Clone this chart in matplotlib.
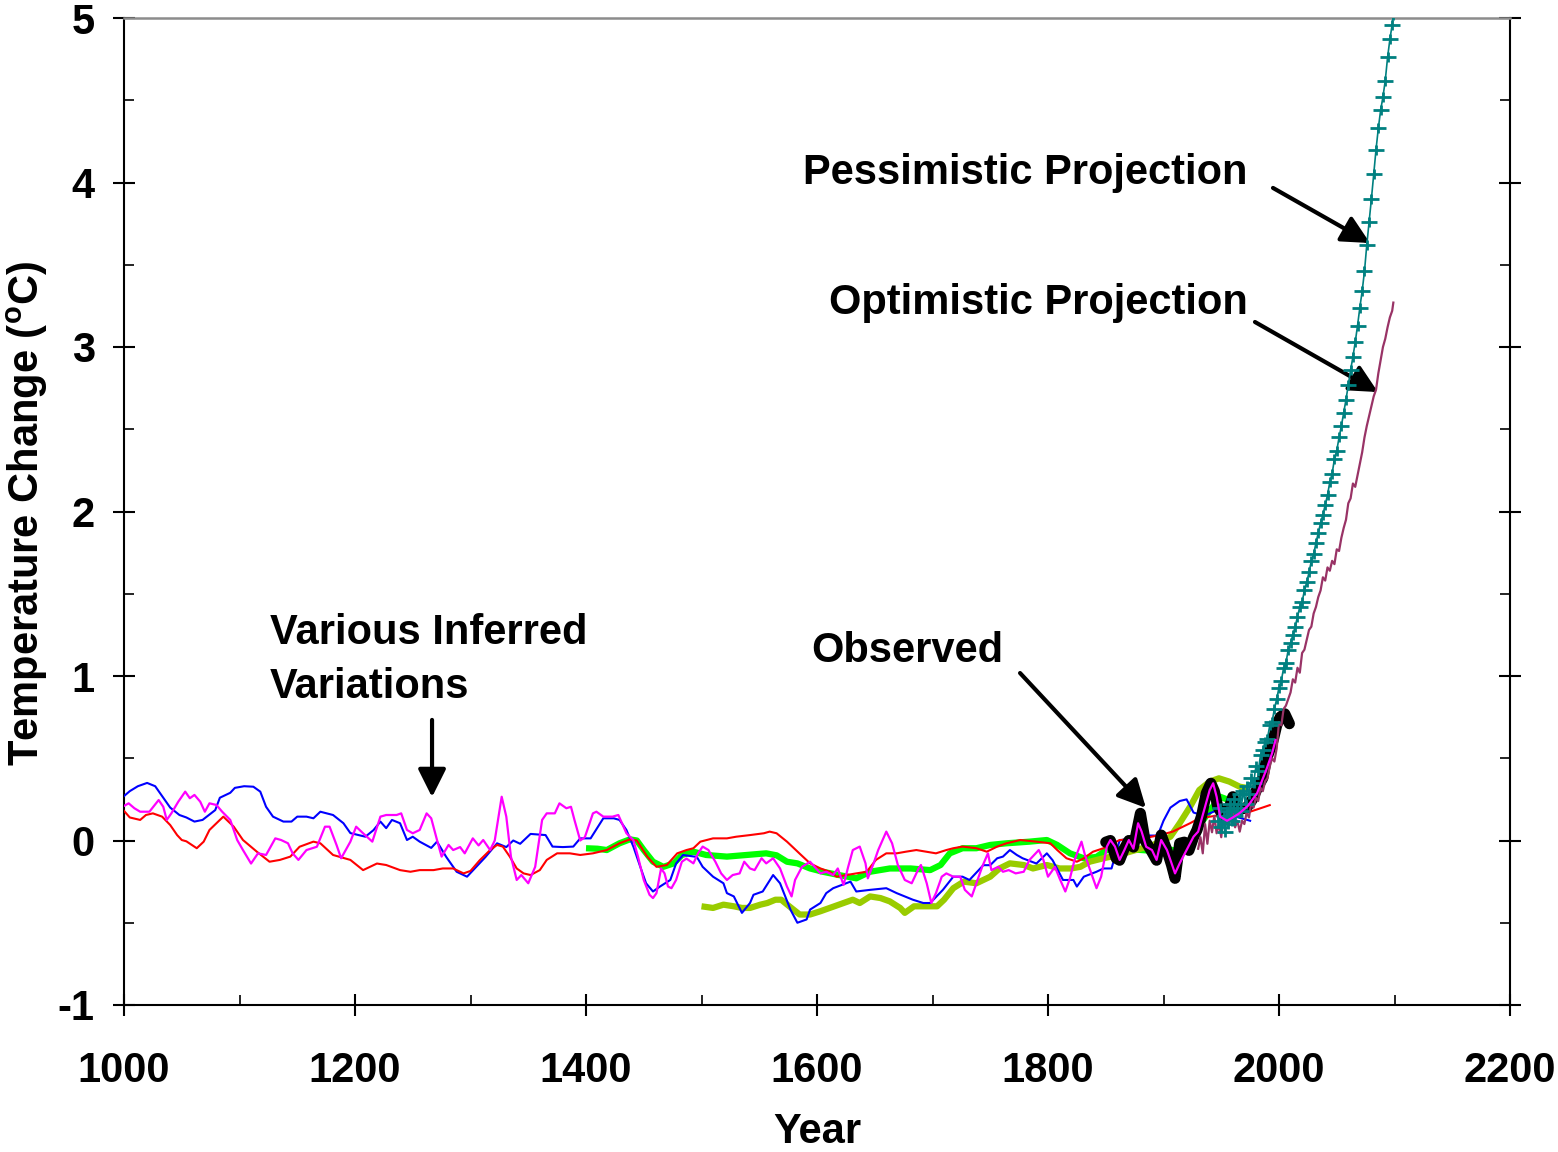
import matplotlib
matplotlib.use("Agg")
import matplotlib.pyplot as plt
from matplotlib.path import Path
from matplotlib.ticker import MultipleLocator

############################## DATA ##############################

# (year, temperature change in degrees C) for each reconstruction / record
bluePoints = [(1000, 0.27), (1005, 0.30), (1012, 0.33), (1020, 0.35), (1027, 0.33), (1031, 0.29),
  (1040, 0.20), (1048, 0.155), (1054, 0.14), (1061, 0.115), (1068, 0.125), (1079, 0.185),
  (1083, 0.26), (1092, 0.29), (1096, 0.32), (1104, 0.33), (1112, 0.327), (1118, 0.297),
  (1123, 0.205), (1129, 0.145), (1138, 0.115), (1145, 0.115), (1150, 0.145), (1158, 0.145),
  (1164, 0.135), (1170, 0.175), (1181, 0.155), (1190, 0.105), (1196, 0.045), (1209, 0.023),
  (1216, 0.063), (1222, 0.115), (1227, 0.075), (1232, 0.125), (1239, 0.105), (1245, 0.003),
  (1250, 0.023), (1256, -0.007), (1266, -0.045), (1271, -0.007), (1279, -0.10), (1288, -0.19),
  (1297, -0.22), (1305, -0.16), (1313, -0.10), (1323, -0.017), (1331, -0.04), (1337, 0.0),
  (1343, -0.02), (1352, 0.04), (1365, 0.033), (1371, -0.037), (1380, -0.04), (1389, -0.037),
  (1395, 0.013), (1404, 0.013), (1415, 0.135), (1424, 0.135), (1429, 0.125), (1435, 0.064),
  (1441, -0.037), (1447, -0.16), (1452, -0.26), (1458, -0.31), (1464, -0.28), (1473, -0.24),
  (1478, -0.14), (1484, -0.088), (1496, -0.10), (1501, -0.16), (1510, -0.22), (1519, -0.26),
  (1522, -0.32), (1528, -0.34), (1535, -0.44), (1542, -0.38), (1545, -0.33), (1553, -0.31),
  (1562, -0.21), (1568, -0.26), (1577, -0.42), (1583, -0.50), (1591, -0.48), (1594, -0.42),
  (1603, -0.38), (1608, -0.32), (1614, -0.29), (1629, -0.25), (1634, -0.31), (1646, -0.30),
  (1660, -0.29), (1669, -0.32), (1683, -0.36), (1692, -0.38), (1698, -0.38), (1709, -0.30),
  (1718, -0.22), (1726, -0.22), (1732, -0.24), (1744, -0.15), (1750, -0.15), (1756, -0.108),
  (1761, -0.098), (1767, -0.058), (1773, -0.088), (1778, -0.108), (1790, -0.14), (1799, -0.078),
  (1804, -0.12), (1813, -0.24), (1822, -0.24), (1825, -0.28), (1831, -0.22), (1842, -0.19),
  (1848, -0.17), (1855, -0.17), (1862, 0.0), (1880, 0.03), (1895, 0.03), (1900, 0.12),
  (1906, 0.20), (1914, 0.24), (1920, 0.25), (1926, 0.17), (1935, 0.15), (1945, 0.18),
  (1955, 0.16), (1965, 0.14), (1975, 0.12)]

redPoints = [(1000, 0.18), (1005, 0.14), (1014, 0.125), (1019, 0.155), (1025, 0.165), (1033, 0.145),
  (1040, 0.094), (1046, 0.033), (1050, 0.003), (1054, -0.005), (1063, -0.047), (1069, -0.007),
  (1074, 0.064), (1083, 0.125), (1086, 0.145), (1095, 0.084), (1103, 0.003), (1115, -0.068),
  (1126, -0.129), (1135, -0.118), (1144, -0.098), (1152, -0.038), (1164, -0.007), (1170, -0.017),
  (1181, -0.088), (1196, -0.118), (1207, -0.18), (1219, -0.14), (1227, -0.149), (1239, -0.18),
  (1248, -0.19), (1256, -0.18), (1268, -0.18), (1276, -0.17), (1285, -0.17), (1294, -0.20),
  (1300, -0.185), (1308, -0.12), (1317, -0.058), (1323, -0.027), (1328, -0.037), (1334, -0.098),
  (1340, -0.17), (1346, -0.20), (1352, -0.21), (1360, -0.18), (1366, -0.118), (1375, -0.078),
  (1386, -0.078), (1395, -0.088), (1406, -0.078), (1418, -0.058), (1429, -0.017), (1438, 0.007),
  (1444, 0.0), (1453, -0.098), (1461, -0.16), (1470, -0.149), (1479, -0.078), (1487, -0.058),
  (1493, -0.047), (1499, -0.007), (1510, 0.013), (1522, 0.013), (1530, 0.023), (1542, 0.033),
  (1554, 0.044), (1559, 0.054), (1565, 0.044), (1574, -0.007), (1579, -0.04), (1585, -0.08),
  (1594, -0.139), (1603, -0.17), (1611, -0.19), (1617, -0.22), (1634, -0.20), (1643, -0.19),
  (1651, -0.118), (1660, -0.078), (1669, -0.078), (1677, -0.068), (1686, -0.058), (1703, -0.078),
  (1712, -0.058), (1718, -0.047), (1726, -0.037), (1738, -0.047), (1747, -0.068), (1756, -0.037),
  (1764, -0.017), (1776, 0.003), (1790, -0.007), (1802, -0.017), (1808, -0.058), (1816, -0.108),
  (1825, -0.129), (1831, -0.108), (1839, -0.068), (1848, -0.047), (1862, 0.003), (1880, 0.01),
  (1897, 0.033), (1908, 0.054), (1923, 0.105), (1931, 0.135), (1945, 0.15), (1960, 0.16),
  (1975, 0.175), (1984, 0.196), (1992, 0.215)]

magentaPoints = [(1000, 0.21), (1004, 0.226), (1009, 0.196), (1014, 0.175), (1022, 0.175), (1030, 0.246),
  (1034, 0.205), (1037, 0.125), (1041, 0.165), (1047, 0.236), (1053, 0.297), (1057, 0.257),
  (1061, 0.277), (1066, 0.236), (1070, 0.175), (1074, 0.226), (1080, 0.216), (1085, 0.175),
  (1092, 0.125), (1098, 0.003), (1103, -0.058), (1110, -0.14), (1116, -0.078), (1123, -0.088),
  (1131, 0.013), (1136, 0.003), (1142, -0.017), (1146, -0.078), (1151, -0.118), (1158, -0.058),
  (1167, -0.038), (1174, 0.084), (1178, 0.084), (1184, -0.027), (1188, -0.108), (1196, -0.007),
  (1201, 0.084), (1207, 0.044), (1215, -0.007), (1222, 0.145), (1227, 0.155), (1236, 0.155),
  (1240, 0.165), (1245, 0.064), (1250, 0.044), (1256, 0.064), (1262, 0.165), (1266, 0.135),
  (1271, 0.003), (1275, -0.098), (1281, -0.027), (1285, -0.058), (1291, -0.04), (1295, -0.078),
  (1302, 0.013), (1307, -0.03), (1311, 0.003), (1317, -0.058), (1321, 0.0), (1327, 0.266),
  (1331, 0.145), (1335, -0.098), (1340, -0.24), (1344, -0.21), (1350, -0.26), (1356, -0.16),
  (1362, 0.125), (1366, 0.165), (1373, 0.165), (1377, 0.226), (1383, 0.196), (1387, 0.205),
  (1390, 0.125), (1395, 0.0), (1399, 0.02), (1406, 0.165), (1409, 0.175), (1415, 0.145),
  (1423, 0.145), (1428, 0.155), (1435, 0.044), (1441, 0.003), (1445, -0.098), (1450, -0.24),
  (1455, -0.33), (1458, -0.35), (1461, -0.32), (1465, -0.17), (1468, -0.20), (1471, -0.28),
  (1474, -0.29), (1478, -0.24), (1483, -0.129), (1487, -0.11), (1493, -0.139), (1497, -0.078),
  (1501, -0.037), (1506, -0.058), (1512, -0.129), (1517, -0.2), (1522, -0.24), (1527, -0.21),
  (1533, -0.2), (1537, -0.129), (1542, -0.17), (1546, -0.18), (1552, -0.108), (1556, -0.139),
  (1562, -0.108), (1568, -0.17), (1574, -0.28), (1578, -0.34), (1581, -0.24), (1587, -0.16),
  (1594, -0.129), (1603, -0.2), (1608, -0.19), (1614, -0.21), (1618, -0.17), (1623, -0.27),
  (1627, -0.16), (1631, -0.058), (1637, -0.037), (1642, -0.139), (1644, -0.23), (1649, -0.139),
  (1653, -0.058), (1660, 0.054), (1665, -0.017), (1670, -0.149), (1676, -0.24), (1682, -0.26),
  (1688, -0.17), (1690, -0.149), (1695, -0.26), (1699, -0.38), (1703, -0.32), (1708, -0.22),
  (1712, -0.2), (1718, -0.22), (1724, -0.22), (1728, -0.3), (1734, -0.34), (1738, -0.26),
  (1743, -0.16), (1748, -0.078), (1751, -0.18), (1757, -0.16), (1761, -0.19), (1766, -0.18),
  (1772, -0.2), (1779, -0.19), (1784, -0.118), (1792, -0.058), (1796, -0.118), (1800, -0.22),
  (1806, -0.16), (1810, -0.23), (1815, -0.31), (1819, -0.23), (1823, -0.118), (1829, -0.007),
  (1832, -0.088), (1836, -0.17), (1842, -0.29), (1846, -0.22), (1851, -0.037), (1854, 0.003),
  (1858, -0.037), (1862, -0.118), (1866, -0.06), (1870, 0.003), (1874, -0.05), (1878, 0.105),
  (1881, 0.055), (1885, -0.038), (1890, -0.058), (1894, -0.118), (1898, 0.003), (1903, -0.058),
  (1910, -0.2), (1914, -0.139), (1920, -0.058), (1926, 0.023), (1930, 0.054), (1936, 0.205),
  (1940, 0.307), (1943, 0.348), (1946, 0.266), (1949, 0.145), (1955, 0.12), (1960, 0.14),
  (1966, 0.167), (1973, 0.21), (1981, 0.287), (1989, 0.43), (1994, 0.53), (1997, 0.61)]

greenPoints = [(1400, -0.047), (1410, -0.05), (1418, -0.058), (1429, -0.017), (1438, 0.007), (1444, 0.0),
  (1450, -0.058), (1458, -0.129), (1467, -0.16), (1476, -0.139), (1483, -0.088), (1493, -0.068),
  (1504, -0.088), (1522, -0.098), (1539, -0.088), (1556, -0.078), (1565, -0.09), (1574, -0.129),
  (1583, -0.139), (1594, -0.17), (1605, -0.19), (1619, -0.21), (1634, -0.23), (1646, -0.19),
  (1663, -0.17), (1681, -0.17), (1698, -0.18), (1707, -0.149), (1715, -0.078), (1726, -0.047),
  (1738, -0.047), (1750, -0.027), (1764, -0.017), (1784, -0.007), (1799, 0.003), (1808, -0.027),
  (1819, -0.078), (1831, -0.108), (1842, -0.1), (1850, -0.06), (1865, -0.05), (1885, -0.06),
  (1900, -0.05), (1908, -0.058), (1914, -0.1), (1922, -0.02), (1930, 0.08), (1940, 0.18),
  (1949, 0.266), (1955, 0.25)]

olivePoints = [(1500, -0.40), (1510, -0.41), (1519, -0.39), (1528, -0.40), (1535, -0.41), (1542, -0.41),
  (1551, -0.39), (1557, -0.38), (1564, -0.36), (1569, -0.36), (1576, -0.40), (1585, -0.45),
  (1594, -0.45), (1603, -0.43), (1611, -0.41), (1623, -0.38), (1631, -0.36), (1637, -0.38),
  (1646, -0.34), (1655, -0.35), (1663, -0.37), (1672, -0.41), (1676, -0.44), (1684, -0.40),
  (1692, -0.40), (1704, -0.40), (1710, -0.36), (1718, -0.29), (1727, -0.25), (1738, -0.26),
  (1750, -0.22), (1758, -0.17), (1767, -0.139), (1779, -0.149), (1787, -0.17), (1799, -0.149),
  (1810, -0.17), (1820, -0.17), (1828, -0.16), (1836, -0.129), (1848, -0.108), (1860, -0.09),
  (1875, -0.06), (1890, -0.03), (1906, 0.023), (1914, 0.105), (1923, 0.205), (1931, 0.307),
  (1940, 0.358), (1948, 0.378), (1957, 0.358), (1966, 0.327), (1972, 0.32)]

observedPoints = [(1850, -0.01), (1854, 0.0), (1859, -0.108), (1862, -0.12), (1866, -0.05), (1870, 0.0),
  (1874, -0.04), (1880, 0.165), (1884, 0.0), (1890, -0.07), (1894, -0.12), (1898, 0.033),
  (1903, -0.06), (1907, -0.15), (1910, -0.23), (1914, -0.017), (1918, -0.01), (1922, -0.06),
  (1926, 0.02), (1929, 0.064), (1933, 0.15), (1937, 0.287), (1941, 0.348), (1944, 0.3),
  (1947, 0.205), (1952, 0.145), (1957, 0.2), (1960, 0.266), (1963, 0.2), (1967, 0.19),
  (1972, 0.2), (1977, 0.25), (1982, 0.33), (1986, 0.38), (1989, 0.49), (1995, 0.61),
  (1998, 0.7), (2001, 0.75), (2005, 0.77), (2009, 0.71)]

pessimisticPoints = [(1947, 0.12), (1949, 0.2), (1950, 0.08), (1952, 0.15), (1953, 0.05), (1955, 0.18),
  (1956, 0.1), (1958, 0.22), (1959, 0.12), (1961, 0.25), (1962, 0.15), (1964, 0.2), (1966, 0.28),
  (1967, 0.18), (1969, 0.3), (1971, 0.22), (1972, 0.33), (1974, 0.28), (1976, 0.38), (1978, 0.35),
  (1980, 0.45), (1982, 0.42), (1984, 0.52), (1986, 0.55), (1988, 0.6), (1990, 0.62), (1992, 0.7),
  (1994, 0.72), (1996, 0.8), (1998, 0.86), (2000, 0.93), (2002, 0.97), (2004, 1.05), (2006, 1.08),
  (2008, 1.16), (2010, 1.2), (2012, 1.25), (2014, 1.3), (2016, 1.36), (2018, 1.42), (2020, 1.45),
  (2022, 1.52), (2024, 1.57), (2026, 1.63), (2028, 1.7), (2030, 1.74), (2032, 1.81), (2034, 1.87),
  (2036, 1.93), (2038, 1.98), (2040, 2.04), (2042, 2.1), (2044, 2.18), (2046, 2.23), (2048, 2.32),
  (2050, 2.37), (2052, 2.45), (2054, 2.52), (2056, 2.6), (2058, 2.68), (2060, 2.77), (2062, 2.86),
  (2064, 2.94), (2066, 3.03), (2068, 3.13), (2070, 3.24), (2072, 3.34), (2074, 3.46), (2076, 3.62),
  (2078, 3.76), (2080, 3.9), (2082, 4.05), (2084, 4.2), (2086, 4.33), (2088, 4.44), (2090, 4.52),
  (2092, 4.62), (2094, 4.76), (2096, 4.87), (2098, 4.96), (2099, 5.02)]

optimisticPoints = [(1930, -0.05), (1932, 0.02), (1934, -0.078), (1936, 0.1), (1938, -0.02), (1940, 0.12),
  (1942, 0.05), (1944, 0.15), (1946, 0.044), (1948, 0.1), (1950, 0.02), (1952, 0.15), (1954, 0.1),
  (1956, 0.2), (1958, 0.12), (1960, 0.18), (1962, 0.08), (1964, 0.12), (1966, 0.054), (1968, 0.12),
  (1970, 0.1), (1972, 0.17), (1974, 0.14), (1976, 0.23), (1978, 0.2), (1980, 0.26), (1982, 0.24),
  (1984, 0.32), (1986, 0.3), (1988, 0.36), (1990, 0.38), (1992, 0.45), (1994, 0.5), (1996, 0.48),
  (1998, 0.56), (2000, 0.72), (2002, 0.7), (2004, 0.8), (2006, 0.82), (2008, 0.86), (2010, 0.9),
  (2012, 0.98), (2014, 0.96), (2016, 1.05), (2018, 1.02), (2020, 1.14), (2022, 1.16), (2024, 1.22),
  (2026, 1.28), (2028, 1.3), (2030, 1.38), (2032, 1.42), (2034, 1.48), (2036, 1.52), (2038, 1.6),
  (2040, 1.58), (2042, 1.66), (2044, 1.64), (2046, 1.7), (2048, 1.68), (2050, 1.77), (2052, 1.76),
  (2054, 1.84), (2056, 1.9), (2058, 1.95), (2060, 2.05), (2062, 2.08), (2064, 2.17), (2066, 2.15),
  (2068, 2.22), (2070, 2.29), (2072, 2.36), (2074, 2.45), (2076, 2.52), (2078, 2.58), (2080, 2.64),
  (2082, 2.7), (2084, 2.74), (2086, 2.84), (2088, 2.92), (2090, 3.0), (2092, 3.05), (2094, 3.12),
  (2096, 3.18), (2098, 3.22), (2099, 3.27)]

xTicks = [1000, 1200, 1400, 1600, 1800, 2000, 2200]
yTicks = [-1, 0, 1, 2, 3, 4, 5]

############################## FUNCTIONS ##############################

# splits a list of (year, value) pairs and draws it as one line
def plotSeries(ax, points, **style):
  years = [p[0] for p in points]
  temps = [p[1] for p in points]
  ax.plot(years, temps, **style)

# draws a straight black arrow with a filled head
def drawArrow(ax, start, end):
  ax.annotate("", xy=end, xytext=start,
              arrowprops=dict(arrowstyle="-|>,head_length=1.0,head_width=0.5",
                              lw=3, color="black", shrinkA=0, shrinkB=0,
                              mutation_scale=17))

############################## SCRIPT ##############################

plt.rcParams["font.family"] = ["Liberation Sans", "DejaVu Sans"]
plt.rcParams["font.weight"] = "bold"
plt.rcParams["axes.unicode_minus"] = False

fig = plt.figure(figsize=(15.58, 11.52), dpi=100)
ax = fig.add_axes([124 / 1558, 1 - 1005 / 1152, (1510 - 124) / 1558, (1005 - 18) / 1152])

# a wide "+" used for the projection markers
plusMarker = Path([(-1, 0), (1, 0), (0, -0.55), (0, 0.55)],
                  [Path.MOVETO, Path.LINETO, Path.MOVETO, Path.LINETO])

plotSeries(ax, greenPoints, color="#00FF00", lw=4.5, zorder=2, solid_capstyle="butt")
plotSeries(ax, olivePoints, color="#99CC00", lw=4.5, zorder=2, solid_capstyle="butt")
plotSeries(ax, bluePoints, color="#0000FF", lw=1.5, zorder=3)
plotSeries(ax, redPoints, color="#FF0000", lw=1.5, zorder=3)
plotSeries(ax, observedPoints, color="black", lw=8, zorder=4,
           solid_capstyle="round", solid_joinstyle="round")
plotSeries(ax, optimisticPoints, color="#993366", lw=1.6, zorder=5)
plotSeries(ax, pessimisticPoints, color="#008080", lw=1.2, zorder=6,
           marker=plusMarker, markersize=12, markeredgewidth=2, markeredgecolor="#008080")
plotSeries(ax, magentaPoints, color="#FF00FF", lw=1.6, zorder=7)

ax.set_xlim(1000, 2200)
ax.set_ylim(-1, 5)
ax.set_xticks(xTicks)
ax.set_yticks(yTicks)
ax.xaxis.set_minor_locator(MultipleLocator(100))
ax.yaxis.set_minor_locator(MultipleLocator(0.5))
ax.tick_params(which="major", direction="inout", length=16, width=1.5,
               right=True, top=False, labelsize=30)
ax.tick_params(axis="x", which="major", pad=25)
ax.tick_params(axis="y", which="major", pad=13)
ax.tick_params(which="minor", direction="in", length=7, width=1.2, right=True, top=False)

for side in ["left", "right", "bottom"]:
  ax.spines[side].set_color("black")
  ax.spines[side].set_linewidth(1.5)
ax.spines["top"].set_color("#8c8c8c")
ax.spines["top"].set_linewidth(1.8)

fig.text(27 / 1558, 1 - 514 / 1152, "Temperature Change ($^\\mathregular{o}$C)",
         rotation=90, ha="center", va="center", fontsize=30)
fig.text(817 / 1558, 1 - 1132 / 1152, "Year", ha="center", va="center", fontsize=30)

# annotations with their arrows
ax.text(1780, 4.06, "Pessimistic Projection", ha="center", va="center", fontsize=30)
drawArrow(ax, (1994.8, 3.967), (2078.8, 3.632))
ax.text(1792, 3.27, "Optimistic Projection", ha="center", va="center", fontsize=30)
drawArrow(ax, (1979.2, 3.152), (2085.7, 2.726))
ax.text(1678, 1.15, "Observed", ha="center", va="center", fontsize=30)
drawArrow(ax, (1775.8, 1.018), (1884.8, 0.198))
ax.text(1126.4, 1.10, "Various Inferred\nVariations", ha="left", va="center",
        fontsize=30, linespacing=1.45)
drawArrow(ax, (1266.7, 0.733), (1266.7, 0.264))

fig.savefig("out.png", dpi=100)
